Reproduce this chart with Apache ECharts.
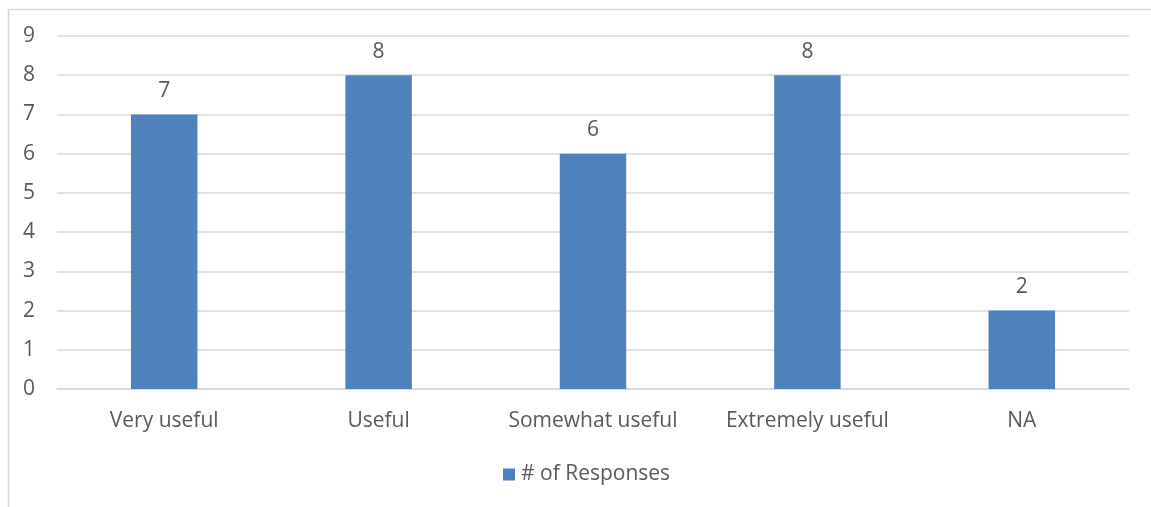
<!DOCTYPE html>
<html>
<head>
<meta charset="utf-8">
<script src="https://cdn.jsdelivr.net/npm/echarts@6/dist/echarts.min.js"></script>
<style>
  html, body { margin: 0; padding: 0; background: #ffffff; }
  #chart { width: 1151px; height: 507px; }
</style>
</head>
<body>
<div id="chart"></div>
<script>
// Survey responses per usefulness rating
const categories = ['Very useful', 'Useful', 'Somewhat useful', 'Extremely useful', 'NA'];
const responses = [7, 8, 6, 8, 2];
const seriesName = '# of Responses';

const FONT = 'Open Sans';
const FONT_SIZE = 21;
const TEXT = '#595959';
const LINE = '#d9d9d9';

const chart = echarts.init(document.getElementById('chart'), null, { renderer: 'canvas' });
chart.setOption({
  animation: false,
  backgroundColor: '#ffffff',
  textStyle: { fontFamily: FONT },
  graphic: [{
    type: 'rect',
    left: 6, top: 7,
    shape: { width: 1300, height: 700 },
    style: { fill: 'none', stroke: LINE, lineWidth: 1.5 },
    silent: true
  }],
  grid: { left: 57, right: 22, top: 36, bottom: 118, containLabel: false },
  legend: {
    bottom: 17,
    left: 498,
    itemWidth: 12, itemHeight: 12,
    icon: 'rect',
    itemGap: 10,
    textStyle: { color: TEXT, fontSize: FONT_SIZE, fontFamily: FONT, padding: [0, 0, 0, 1] },
    data: [seriesName]
  },
  xAxis: {
    type: 'category',
    data: categories,
    axisLine: { show: true, lineStyle: { color: LINE, width: 1.5 } },
    axisTick: { show: false },
    axisLabel: { color: TEXT, fontSize: FONT_SIZE, fontFamily: FONT, margin: 22, interval: 0 }
  },
  yAxis: {
    type: 'value',
    min: 0, max: 9, interval: 1,
    axisLine: { show: false },
    axisTick: { show: false },
    splitLine: { lineStyle: { color: LINE, width: 1.5 } },
    axisLabel: { color: TEXT, fontSize: FONT_SIZE, fontFamily: FONT, margin: 22 }
  },
  series: [{
    name: seriesName,
    type: 'bar',
    data: responses,
    barWidth: '31%',
    itemStyle: { color: '#4f81bd' },
    label: {
      show: true,
      position: 'top',
      distance: 13,
      color: TEXT,
      fontSize: FONT_SIZE,
      fontFamily: FONT
    }
  }]
});
</script>
</body>
</html>
